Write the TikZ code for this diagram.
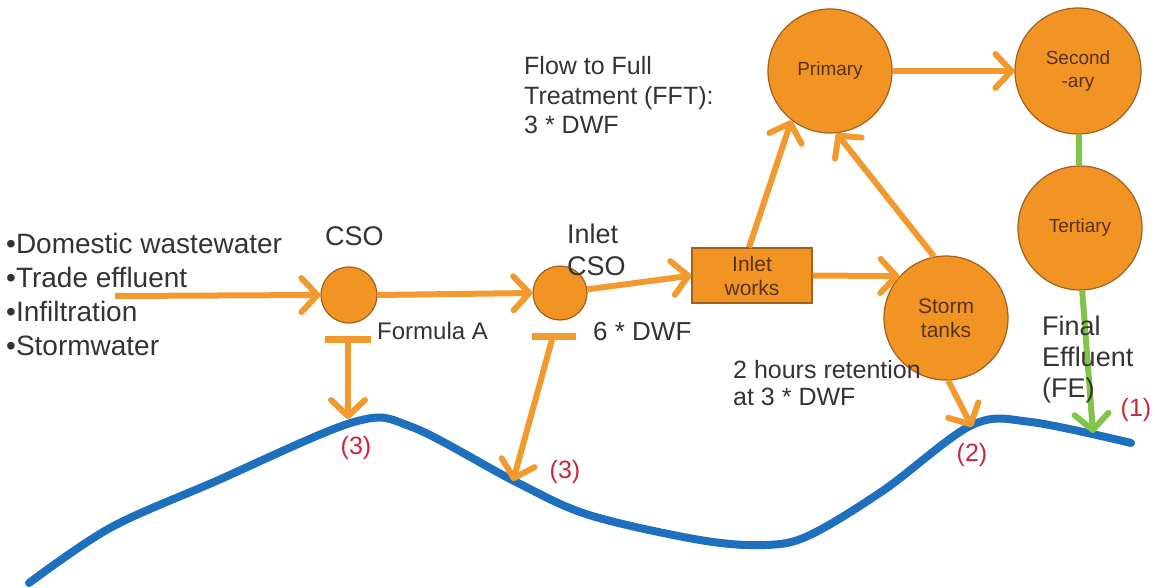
\documentclass[tikz,border=0pt]{standalone}
\usepackage{fontspec}
\setmainfont{Liberation Sans}
\usetikzlibrary{arrows.meta}
\definecolor{orangefill}{HTML}{F29423}
\definecolor{orangeline}{HTML}{F29A2E}
\definecolor{rimbrown}{HTML}{A0601E}
\definecolor{nodetext}{HTML}{553318}
\definecolor{labeltext}{HTML}{333333}
\definecolor{redlabel}{HTML}{C8283C}
\definecolor{riverblue}{HTML}{1E70BE}
\definecolor{effgreen}{HTML}{82C447}
\tikzset{
  flow/.style={draw=orangeline, line width=6pt,
    -{Straight Barb[length=16pt,width=34pt,round]}},
  weir/.style={draw=orangeline, line width=7pt},
  unit/.style={circle, fill=orangefill, draw=rimbrown, line width=1.2pt,
    inner sep=0pt, text=nodetext, align=center},
  works/.style={rectangle, fill=orangefill, draw=rimbrown, line width=1.2pt,
    inner sep=0pt, text=nodetext, align=center,
    font=\fontsize{21}{24}\selectfont},
  lbl/.style={text=labeltext, inner sep=0pt, align=left, anchor=base west},
  num/.style={text=redlabel, inner sep=0pt, font=\fontsize{25}{28}\selectfont},
}
\begin{document}
\begin{tikzpicture}[x=1pt, y=-1pt]
\useasboundingbox (0,0) rectangle (1155,588);

% treatment units
\node[unit, minimum size=56] (cso) at (349,295) {};
\node[unit, minimum size=54] (icso) at (560,293) {};
\node[works, minimum width=120, minimum height=55] (inlet) at (752,275.5) {Inlet\\works};
\node[unit, minimum size=124, font=\fontsize{21}{24}\selectfont] (storm) at (946,318) {Storm\\tanks};
\node[unit, minimum size=124, font=\fontsize{19}{23}\selectfont] (primary) at (830,71) {Primary};
\node[unit, minimum size=126, font=\fontsize{19}{23}\selectfont] (second) at (1078,71) {Second\\-ary};
\node[unit, minimum size=124, font=\fontsize{19}{23}\selectfont] (tert) at (1080,228) {Tertiary};

% the receiving river
\draw[riverblue, line width=8pt, line cap=round]
  plot[smooth, tension=0.55] coordinates {(29,583) (110,528) (214,482) (354,422) (412,427)
    (516,482) (589,515) (700,540) (766,545) (810,535) (884,490) (972,425) (1031,422) (1131,443)};

% discharge points on the river
\coordinate (src) at (115,296);
\coordinate (w1l) at (325,339);
\coordinate (w1r) at (371,339);
\coordinate (w1) at (348,339);
\coordinate (r3a) at (348,419);
\coordinate (w2l) at (532,336);
\coordinate (w2r) at (576,336);
\coordinate (w2) at (553,336);
\coordinate (r3b) at (513,481);
\coordinate (r2) at (972,427);
\coordinate (r1) at (1093,433);

% flows
\draw[flow] (src) -- (cso.west);
\draw[flow] (cso.east) -- (icso.west);
\draw[flow] (icso) -- (inlet.west);
\draw[flow] (inlet.east) -- (storm.138);
\draw[flow] ([xshift=-3pt]inlet.north) -- (primary.-128);
\draw[flow] (storm.101) -- (primary.-84);
\draw[flow] (primary) -- (second);
\draw[flow] (storm.-88) -- (r2);
\draw[effgreen, line width=6pt] (second) -- (tert);
\draw[flow, draw=effgreen] (tert.-88) -- (r1);

% overflow weirs
\draw[weir] (w1l) -- (w1r);
\draw[flow] (w1) -- (r3a);
\draw[weir] (w2l) -- (w2r);
\draw[flow] (w2) -- (r3b);

% text labels (anchored at the baseline of their last line)
\node[lbl, font=\fontsize{28}{34}\selectfont] (inputs) at (6,355)
  {•Domestic wastewater\\•Trade effluent\\•Infiltration\\•Stormwater};
\node[lbl, font=\fontsize{27}{34}\selectfont] (csolbl) at (325,245) {CSO};
\node[lbl, font=\fontsize{27}{32}\selectfont] (icsolbl) at (567,275) {Inlet\\CSO};
\node[lbl, font=\fontsize{24}{28}\selectfont] (forma) at (377,339) {Formula A};
\node[lbl, font=\fontsize{26}{28}\selectfont] (sixdwf) at (593,340) {6 * DWF};
\node[lbl, font=\fontsize{25}{29.5}\selectfont] (fft) at (524,134)
  {Flow to Full\\Treatment (FFT):\\3 * DWF};
\node[lbl, font=\fontsize{25}{27}\selectfont] (ret) at (733,405)
  {2 hours retention\\at 3 * DWF};
\node[lbl, font=\fontsize{27}{31}\selectfont] (fe) at (1042,397)
  {Final\\Effluent\\(FE)};

\node[num] (n1) at (1136,410) {(1)};
\node[num] (n2) at (972,455) {(2)};
\node[num] (n3a) at (356,448) {(3)};
\node[num] (n3b) at (565,472) {(3)};
\end{tikzpicture}
\end{document}
